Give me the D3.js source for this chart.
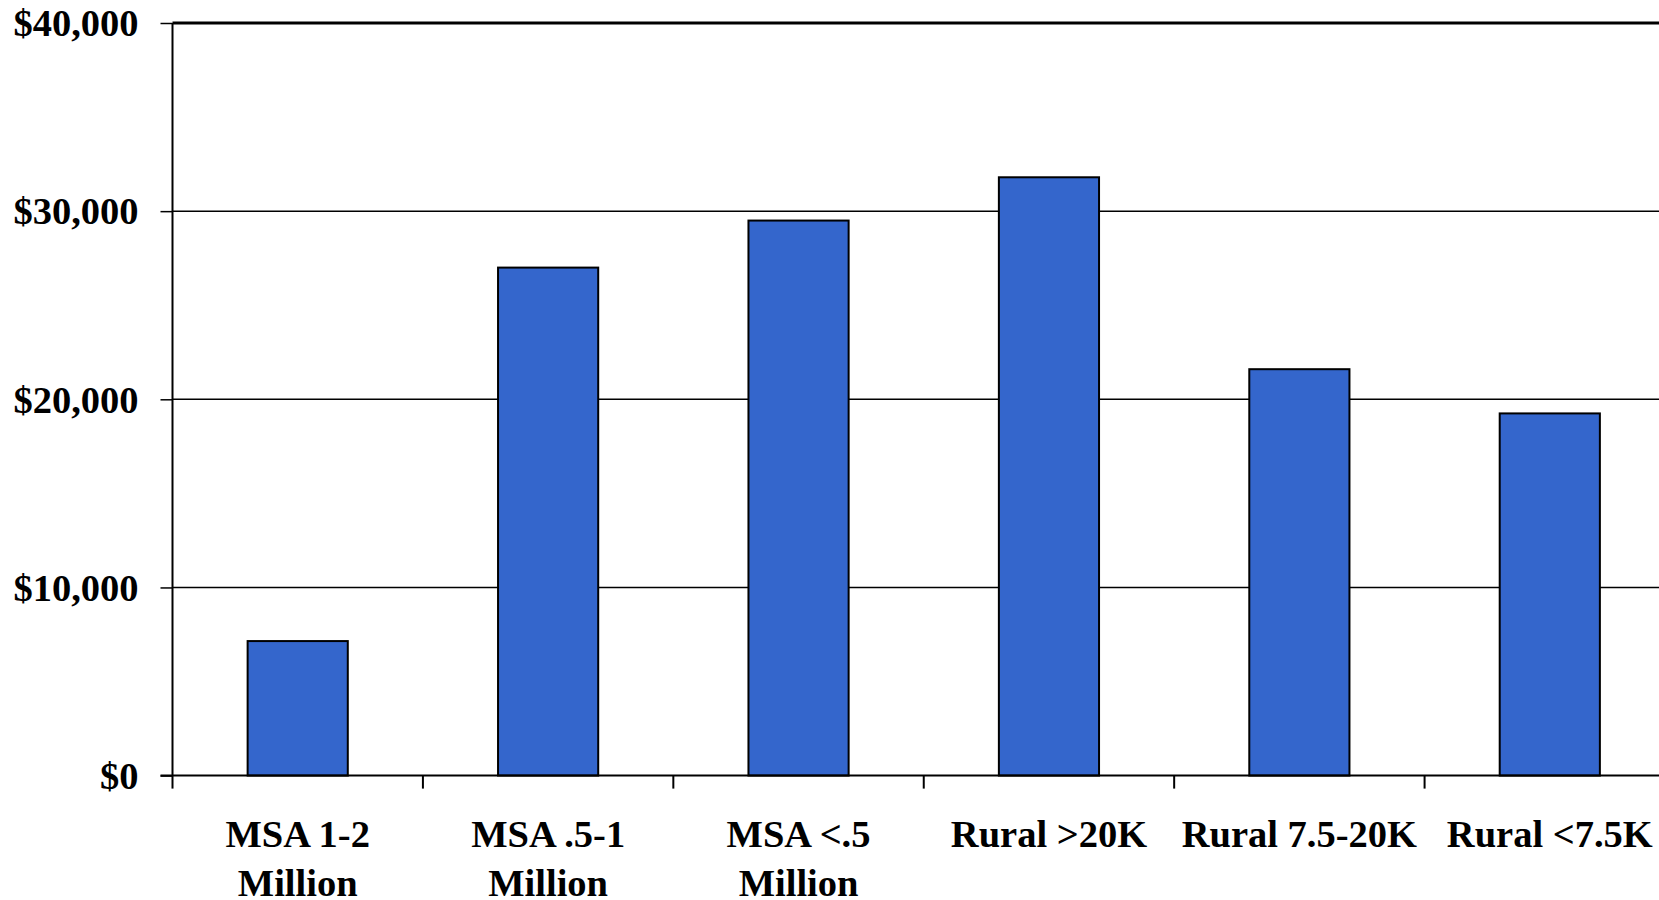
<!DOCTYPE html>
<html><head><meta charset="utf-8">
<script src="https://cdn.jsdelivr.net/npm/d3@7"></script>
<style>html,body{margin:0;padding:0;background:#fff;overflow:hidden}</style>
</head><body>
<svg id="c" width="1659" height="900"></svg>
<script>
const categories = [["MSA 1-2","Million"],["MSA .5-1","Million"],["MSA <.5","Million"],["Rural >20K"],["Rural 7.5-20K"],["Rural <7.5K"]];
const values = [7150, 27000, 29500, 31800, 21600, 19250];
const yTicks = [0, 10000, 20000, 30000, 40000];

const svg = d3.select("#c");
const mLeft = 172.5, mRight = 1675, mTop = 23, mBottom = 775.6;
const font = "'Liberation Serif','Times New Roman',serif";

const x = d3.scaleBand().domain(d3.range(categories.length)).range([mLeft, mRight]).paddingInner(0.6).paddingOuter(0.3);
const y = d3.scaleLinear().domain([0, 40000]).range([mBottom, mTop]);
const step = x.step();

// gridlines
svg.append("g").selectAll("line").data(yTicks.filter(d => d > 0 && d < 40000)).join("line")
  .attr("x1", mLeft).attr("x2", mRight).attr("y1", d => y(d)).attr("y2", d => y(d))
  .attr("stroke", "#000").attr("stroke-width", 1.5);

// top border
svg.append("line").attr("x1", mLeft).attr("x2", mRight).attr("y1", y(40000)).attr("y2", y(40000))
  .attr("stroke", "#000").attr("stroke-width", 3);

// bars
svg.append("g").selectAll("rect").data(values).join("rect")
  .attr("x", (d, i) => x(i)).attr("width", x.bandwidth())
  .attr("y", d => y(d)).attr("height", d => y(0) - y(d))
  .attr("fill", "#3466CC").attr("stroke", "#000").attr("stroke-width", 2);

// y axis
const yAxis = d3.axisLeft(y).tickValues(yTicks).tickSize(12).tickPadding(22)
  .tickFormat(d => "$" + d3.format(",")(d));
const gy = svg.append("g").attr("transform", `translate(${mLeft},0)`).call(yAxis);
gy.select(".domain").attr("stroke", "#000").attr("stroke-width", 2).attr("d", `M0,${mTop}V${mBottom}`);
gy.selectAll(".tick line").attr("stroke", "#000").attr("stroke-width", 1.5);
gy.selectAll(".tick text").attr("font-family", font).attr("font-weight", "bold").attr("font-size", 38.5)
  .attr("fill", "#000").attr("dy", "0.33em");

// x axis line
svg.append("line").attr("x1", mLeft - 12).attr("x2", mRight).attr("y1", mBottom).attr("y2", mBottom)
  .attr("stroke", "#000").attr("stroke-width", 2);
// x ticks at band boundaries
svg.append("g").selectAll("line").data(d3.range(categories.length + 1)).join("line")
  .attr("x1", i => mLeft + i * step).attr("x2", i => mLeft + i * step)
  .attr("y1", mBottom).attr("y2", mBottom + 13)
  .attr("stroke", "#000").attr("stroke-width", 2);

// category labels
const lab = svg.append("g").selectAll("text").data(categories).join("text")
  .attr("text-anchor", "middle").attr("font-family", font).attr("font-weight", "bold").attr("font-size", 38.5)
  .attr("fill", "#000")
  .attr("transform", (d, i) => `translate(${x(i) + x.bandwidth() / 2},847)`);
lab.selectAll("tspan").data(d => d).join("tspan")
  .attr("x", 0).attr("y", (d, j) => j * 49).text(d => d);
</script>
</body></html>
